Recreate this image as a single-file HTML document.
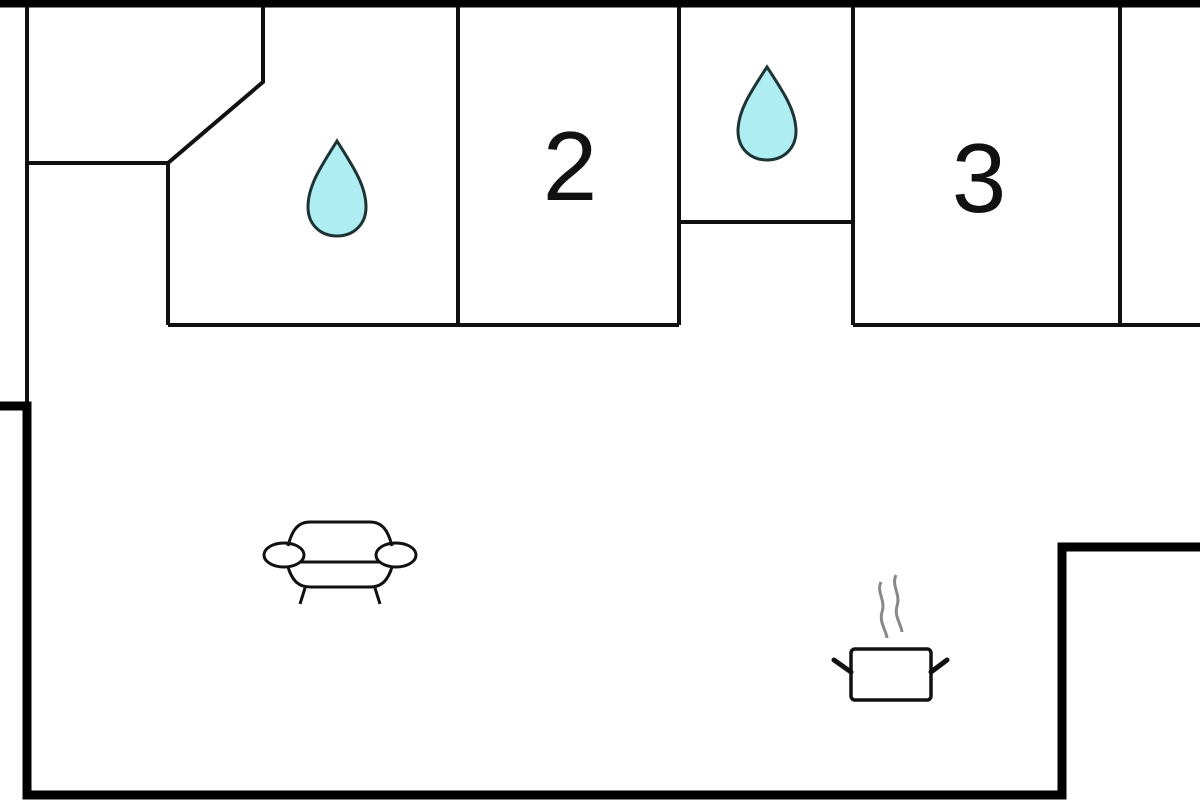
<!DOCTYPE html>
<html><head><meta charset="utf-8"><style>html,body{margin:0;padding:0;background:#fff;}svg{display:block}</style></head>
<body>
<svg width="1200" height="800" viewBox="0 0 1200 800" xmlns="http://www.w3.org/2000/svg">
<rect width="1200" height="800" fill="#fff"/>
<g stroke="#111" fill="none" stroke-width="4" stroke-linejoin="miter">
<line x1="27" y1="0" x2="27" y2="406"/>
<polyline points="27,163 168,163 263,82 263,0"/>
<line x1="168" y1="163" x2="168" y2="325"/>
<line x1="168" y1="325" x2="679" y2="325"/>
<line x1="458" y1="0" x2="458" y2="325"/>
<line x1="679" y1="0" x2="679" y2="325"/>
<line x1="679" y1="222" x2="853" y2="222"/>
<line x1="853" y1="0" x2="853" y2="325"/>
<line x1="853" y1="325" x2="1200" y2="325"/>
<line x1="1120" y1="0" x2="1120" y2="325"/>
</g>
<g stroke="#000" fill="none" stroke-width="9">
<line x1="0" y1="3" x2="1200" y2="3"/>
<polyline points="0,406 27,406 27,795 1062,795 1062,547 1200,547"/>
</g>
<g fill="#aeeef2" stroke="#1e3434" stroke-width="3">
<path d="M337,141 C352,165 366,185 366,207 C366,225 353,236 337,236 C321,236 308,225 308,207 C308,185 322,165 337,141 Z"/>
<path d="M767,67 C782,90 796,110 796,131 C796,149 783,160 767,160 C751,160 738,149 738,131 C738,110 752,90 767,67 Z"/>
</g>
<text x="570" y="200" font-family="Liberation Sans, sans-serif" font-size="98" text-anchor="middle" fill="#111">2</text>
<text x="979" y="212" font-family="Liberation Sans, sans-serif" font-size="98" text-anchor="middle" fill="#111">3</text>
<g stroke="#111" stroke-width="3" fill="none">
<path d="M288,546 C292,530 298,522 310,522 L370,522 C382,522 388,530 392,546"/>
<ellipse cx="284" cy="555" rx="20" ry="12"/>
<ellipse cx="396" cy="555" rx="20" ry="12"/>
<line x1="300" y1="562" x2="380" y2="562"/>
<path d="M288,567 C292,580 298,587 310,587 L370,587 C382,587 388,580 392,567"/>
<line x1="305" y1="588" x2="300" y2="604"/>
<line x1="375" y1="588" x2="380" y2="604"/>
</g>
<g>
<rect x="851" y="649" width="80" height="51" rx="4" fill="none" stroke="#111" stroke-width="3.5"/>
<line x1="834" y1="660" x2="851" y2="672" stroke="#111" stroke-width="5" stroke-linecap="round"/>
<line x1="947" y1="660" x2="931" y2="672" stroke="#111" stroke-width="5" stroke-linecap="round"/>
<path d="M881,582 C876,592 886,600 882,612 C879,622 886,630 887,638" stroke="#888" stroke-width="3" fill="none"/>
<path d="M896,575 C891,586 901,594 897,606 C894,616 901,624 902,632" stroke="#888" stroke-width="3" fill="none"/>
</g>
</svg>
</body></html>
